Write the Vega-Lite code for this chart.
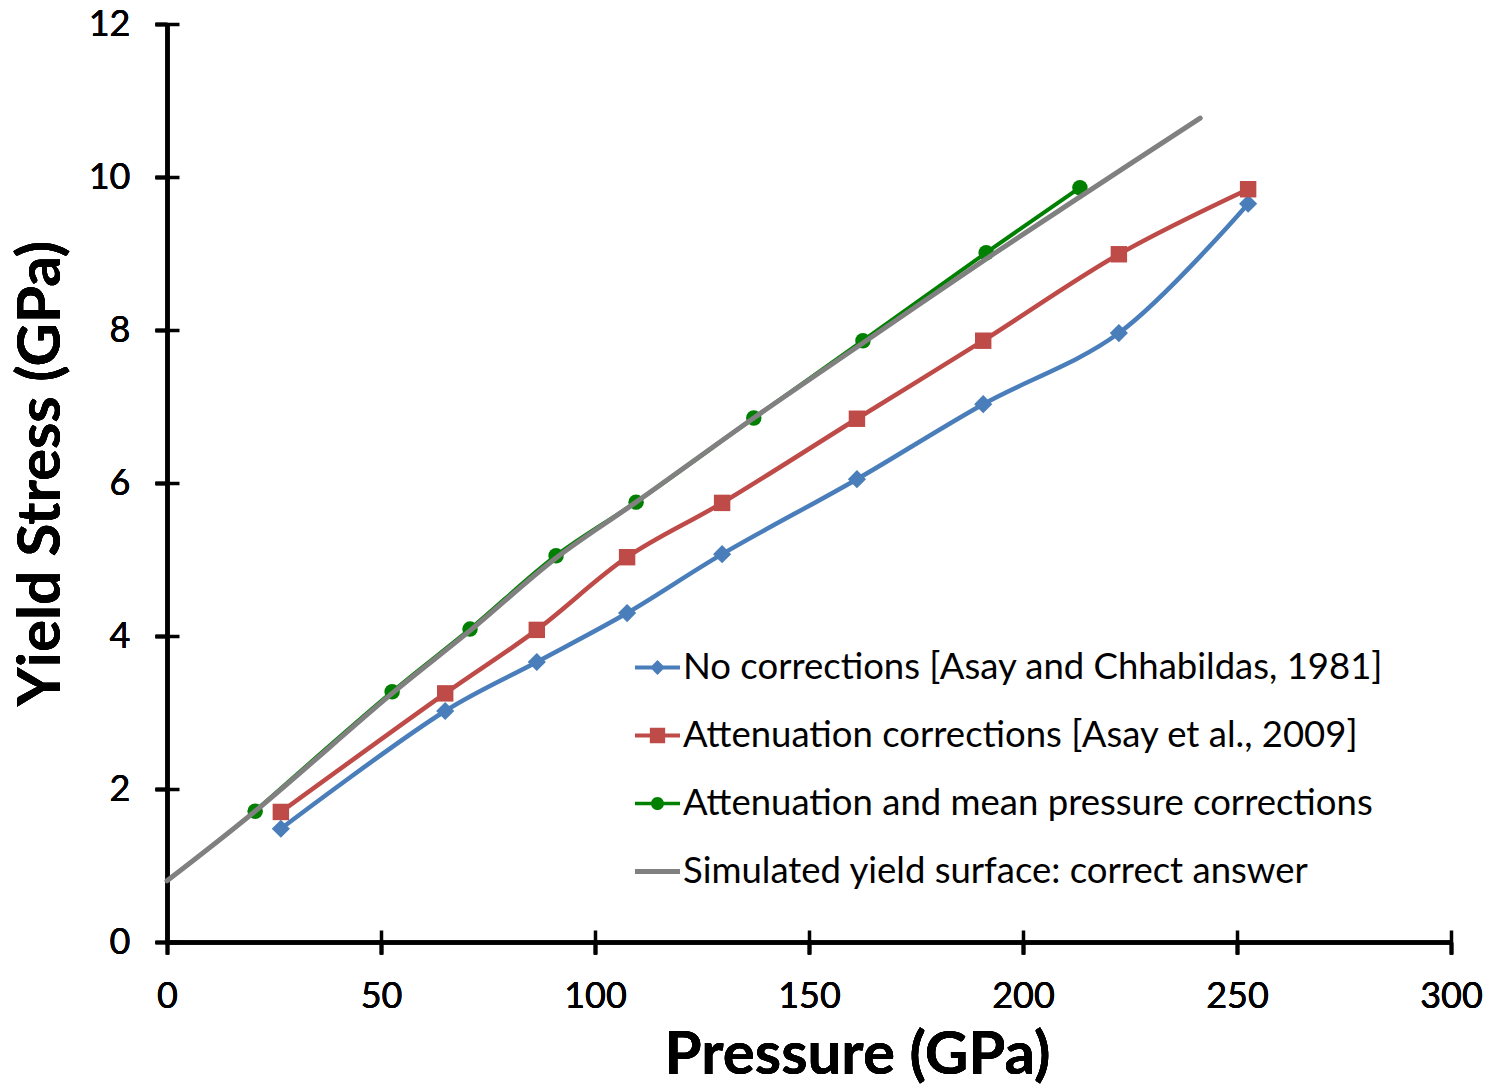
{
  "$schema": "https://vega.github.io/schema/vega-lite/v6.json",
  "width": 1284,
  "height": 918,
  "autosize": "none",
  "padding": {"left": 167, "top": 24, "right": 40, "bottom": 147},
  "background": "white",
  "config": {
    "font": "Lato",
    "view": {"stroke": null},
    "axis": {
      "grid": false,
      "domainColor": "black",
      "tickColor": "black",
      "domainWidth": 4,
      "tickWidth": 3.5,
      "labelColor": "black",
      "titleColor": "black",
      "labelFont": "Lato",
      "titleFont": "Lato"
    }
  },
  "data": {
    "values": [
      {"series": "No corrections [Asay and Chhabildas, 1981]", "p": 26.6, "s": 1.48},
      {"series": "No corrections [Asay and Chhabildas, 1981]", "p": 65.0, "s": 3.02},
      {"series": "No corrections [Asay and Chhabildas, 1981]", "p": 86.4, "s": 3.66},
      {"series": "No corrections [Asay and Chhabildas, 1981]", "p": 107.5, "s": 4.30},
      {"series": "No corrections [Asay and Chhabildas, 1981]", "p": 129.7, "s": 5.07},
      {"series": "No corrections [Asay and Chhabildas, 1981]", "p": 161.2, "s": 6.05},
      {"series": "No corrections [Asay and Chhabildas, 1981]", "p": 190.7, "s": 7.03},
      {"series": "No corrections [Asay and Chhabildas, 1981]", "p": 222.4, "s": 7.96},
      {"series": "No corrections [Asay and Chhabildas, 1981]", "p": 252.6, "s": 9.65},
      {"series": "Attenuation corrections [Asay et al., 2009]", "p": 26.6, "s": 1.70},
      {"series": "Attenuation corrections [Asay et al., 2009]", "p": 65.0, "s": 3.25},
      {"series": "Attenuation corrections [Asay et al., 2009]", "p": 86.4, "s": 4.08},
      {"series": "Attenuation corrections [Asay et al., 2009]", "p": 107.5, "s": 5.03},
      {"series": "Attenuation corrections [Asay et al., 2009]", "p": 129.7, "s": 5.74},
      {"series": "Attenuation corrections [Asay et al., 2009]", "p": 161.2, "s": 6.84},
      {"series": "Attenuation corrections [Asay et al., 2009]", "p": 190.7, "s": 7.86},
      {"series": "Attenuation corrections [Asay et al., 2009]", "p": 222.4, "s": 8.99},
      {"series": "Attenuation corrections [Asay et al., 2009]", "p": 252.6, "s": 9.84},
      {"series": "Attenuation and mean pressure corrections", "p": 20.6, "s": 1.71},
      {"series": "Attenuation and mean pressure corrections", "p": 52.6, "s": 3.27},
      {"series": "Attenuation and mean pressure corrections", "p": 70.8, "s": 4.09},
      {"series": "Attenuation and mean pressure corrections", "p": 90.9, "s": 5.05},
      {"series": "Attenuation and mean pressure corrections", "p": 109.6, "s": 5.75},
      {"series": "Attenuation and mean pressure corrections", "p": 137.1, "s": 6.85},
      {"series": "Attenuation and mean pressure corrections", "p": 162.6, "s": 7.86},
      {"series": "Attenuation and mean pressure corrections", "p": 191.4, "s": 9.01},
      {"series": "Attenuation and mean pressure corrections", "p": 213.3, "s": 9.86},
      {"series": "Simulated yield surface: correct answer", "p": 0, "s": 0.80},
      {"series": "Simulated yield surface: correct answer", "p": 20.6, "s": 1.71},
      {"series": "Simulated yield surface: correct answer", "p": 52.6, "s": 3.25},
      {"series": "Simulated yield surface: correct answer", "p": 70.8, "s": 4.07},
      {"series": "Simulated yield surface: correct answer", "p": 90.9, "s": 5.02},
      {"series": "Simulated yield surface: correct answer", "p": 109.6, "s": 5.75},
      {"series": "Simulated yield surface: correct answer", "p": 137.1, "s": 6.85},
      {"series": "Simulated yield surface: correct answer", "p": 162.6, "s": 7.83},
      {"series": "Simulated yield surface: correct answer", "p": 191.4, "s": 8.93},
      {"series": "Simulated yield surface: correct answer", "p": 213.3, "s": 9.74},
      {"series": "Simulated yield surface: correct answer", "p": 241.4, "s": 10.77}
    ]
  },
  "encoding": {
    "x": {
      "field": "p", "type": "quantitative",
      "scale": {"domain": [0, 300], "nice": false, "zero": false},
      "axis": {
        "orient": "bottom",
        "values": [0, 50, 100, 150, 200, 250, 300],
        "title": "Pressure (GPa)",
        "titleFontSize": 60, "titleFontWeight": "bold",
        "titleX": 690, "titleY": 84, "titleBaseline": "top",
        "labelFontSize": 36, "tickSize": 12, "labelPadding": 25,
        "labelFlush": false, "labelOverlap": false
      }
    },
    "y": {
      "field": "s", "type": "quantitative",
      "scale": {"domain": [0, 12], "nice": false, "zero": false},
      "axis": {
        "orient": "left",
        "values": [0, 2, 4, 6, 8, 10, 12],
        "title": "Yield Stress (GPa)",
        "titleFontSize": 60, "titleFontWeight": "bold",
        "titleX": -95, "titleY": 449, "titleAngle": 270, "titleBaseline": "bottom", "titleAlign": "center",
        "labelFontSize": 36, "tickSize": 12, "labelPadding": 25,
        "labelFlush": false, "labelOverlap": false
      }
    },
    "color": {
      "field": "series", "type": "nominal",
      "scale": {
        "domain": [
          "No corrections [Asay and Chhabildas, 1981]",
          "Attenuation corrections [Asay et al., 2009]",
          "Attenuation and mean pressure corrections",
          "Simulated yield surface: correct answer"
        ],
        "range": ["#4A7EBB", "#BE4B48", "#008000", "#808080"]
      },
      "legend": {
        "orient": "none",
        "legendX": 468,
        "legendY": 621,
        "title": null,
        "symbolSize": 2025,
        "symbolType": "circle",
        "labelFontSize": 36.5,
        "labelFont": "Lato",
        "labelColor": "black",
        "labelOffset": 3,
        "labelLimit": 900,
        "rowPadding": 27,
        "padding": 0,
        "encode": {
          "symbols": {
            "update": {
              "shape": {"signal": "datum.value === 'No corrections [Asay and Chhabildas, 1981]' ? 'M-1,-0.09H1V0.09H-1Z M0,-0.33L0.33,0L0,0.33L-0.33,0Z' : datum.value === 'Attenuation corrections [Asay et al., 2009]' ? 'M-1,-0.09H1V0.09H-1Z M-0.34,-0.34H0.34V0.34H-0.34Z' : datum.value === 'Attenuation and mean pressure corrections' ? 'M-1,-0.08H1V0.08H-1Z M0.29,0A0.29,0.29 0 1,1 -0.29,0A0.29,0.29 0 1,1 0.29,0Z' : 'M-1,-0.11H1V0.11H-1Z'"},
              "fill": {"signal": "scale('color', datum.value)"},
              "stroke": {"value": "transparent"},
              "strokeWidth": {"value": 0},
              "opacity": {"value": 1},
              "fillOpacity": {"value": 1}
            }
          }
        }
      }
    }
  },
  "resolve": {"axis": {"x": "independent", "y": "independent"}},
  "layer": [
    {
      "transform": [{"filter": "datum.series !== 'Simulated yield surface: correct answer'"}],
      "mark": {"type": "line", "interpolate": "catmull-rom", "strokeCap": "round", "strokeJoin": "round"},
      "encoding": {
        "strokeWidth": {
          "condition": {"test": "datum.series === 'Attenuation and mean pressure corrections'", "value": 4},
          "value": 4.5
        }
      }
    },
    {
      "transform": [{"filter": "datum.series === 'No corrections [Asay and Chhabildas, 1981]'"}],
      "mark": {"type": "point", "shape": "diamond", "filled": true, "size": 330, "opacity": 1}
    },
    {
      "transform": [{"filter": "datum.series === 'Attenuation corrections [Asay et al., 2009]'"}],
      "mark": {"type": "point", "shape": "square", "filled": true, "size": 270, "opacity": 1}
    },
    {
      "transform": [{"filter": "datum.series === 'Attenuation and mean pressure corrections'"}],
      "mark": {"type": "point", "shape": "circle", "filled": true, "size": 240, "opacity": 1}
    },
    {
      "transform": [{"filter": "datum.series === 'Simulated yield surface: correct answer'"}],
      "mark": {"type": "line", "interpolate": "catmull-rom", "strokeWidth": 5, "strokeCap": "round"},
      "encoding": {
        "x": {
          "field": "p", "type": "quantitative",
          "scale": {"domain": [0, 300], "nice": false, "zero": false},
          "axis": {"orient": "bottom", "values": [0, 50, 100, 150, 200, 250, 300], "tickSize": -12, "labels": false, "domain": false, "title": null}
        },
        "y": {
          "field": "s", "type": "quantitative",
          "scale": {"domain": [0, 12], "nice": false, "zero": false},
          "axis": {"orient": "left", "values": [0, 2, 4, 6, 8, 10, 12], "tickSize": -12, "labels": false, "domain": false, "title": null}
        }
      }
    }
  ]
}
